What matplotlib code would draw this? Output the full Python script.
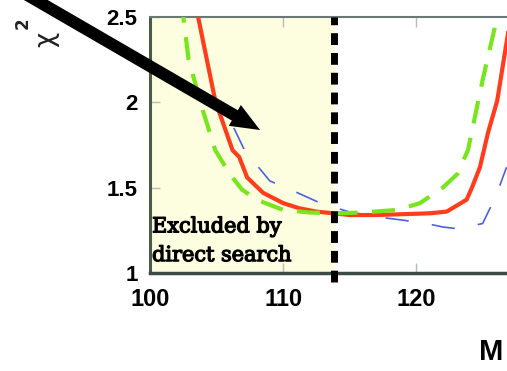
#---------------------------------------------------------------------------
# chi^2 vs Higgs mass, with the region excluded by direct search shaded
#---------------------------------------------------------------------------
from matplotlib import pyplot as plt
from matplotlib import patheffects as pe

# Values
#---------------------------------------------------------------------------
red_m = [103.3, 104.9, 106.2, 106.7, 107.3, 108.5, 110.0, 111.2, 112.5, 113.8,
         115.0, 117.0, 119.0, 121.0, 122.3, 123.8, 124.2, 124.8, 125.4, 126.1,
         126.8, 127.3]
red_chi2 = [2.62, 2.01, 1.72, 1.68, 1.56, 1.47, 1.41, 1.38, 1.36, 1.35,
            1.34, 1.34, 1.345, 1.35, 1.36, 1.43, 1.50, 1.62, 1.82, 2.01,
            2.35, 2.60]

green_m = [102.3, 102.5, 102.9, 103.9, 104.9, 106.0, 106.9, 108.0, 109.0, 110.0,
           112.0, 114.0, 116.0, 118.6, 120.3, 122.0, 123.1, 123.9, 125.0, 126.1,
           126.3]
green_chi2 = [2.6, 2.5, 2.25, 1.97, 1.72, 1.58, 1.49, 1.43, 1.40, 1.37,
              1.355, 1.35, 1.355, 1.37, 1.41, 1.50, 1.58, 1.72, 2.13, 2.5,
              2.6]

blue_m = [106.3, 107.1, 109.0, 111.1, 112.8, 114.9, 117.0, 119.0, 120.8, 122.0,
          123.1, 125.0, 126.0, 126.8]
blue_chi2 = [1.85, 1.72, 1.54, 1.47, 1.41, 1.36, 1.33, 1.31, 1.29, 1.27,
             1.26, 1.29, 1.45, 1.62]

m_limit = 113.8
x_ticks = [100, 110, 120]
y_ticks = [1, 1.5, 2, 2.5]
y_tick_labels = ['1', '1.5', '2', '2.5']
#---------------------------------------------------------------------------

fig = plt.figure(figsize=(5.07, 3.71), dpi=100)
ax = fig.add_axes([0.296, 0.264, 0.787, 0.690])

# shaded excluded region and the limit line
ax.axvspan(100, m_limit, color='#fdfde0', zorder=0)
ax.axvline(m_limit, ymin=-0.035, ymax=1, color='k', lw=5,
           linestyle=(0, (1.7, 1.15)), clip_on=False, zorder=5)

# curves
ax.plot(blue_m, blue_chi2, color='#4a62dd', lw=1.2,
        linestyle=(0, (14, 14)), zorder=2)
ax.plot(red_m, red_chi2, color='#ff3c1c', lw=3, zorder=3)
ax.plot(green_m, green_chi2, color='#77e61c', lw=3,
        linestyle=(0, (5.5, 3.5)), zorder=4)

# two-line note; va='baseline' sits on the last line
ax.text(100.15, 1.07, 'Excluded by\ndirect search', family='DejaVu Serif',
        fontsize=15, color='k', ha='left', va='baseline', linespacing=1.65,
        path_effects=[pe.withStroke(linewidth=0.9, foreground='k')],
        zorder=6)

# big arrow
ax.annotate('', xy=(108.27, 1.838), xytext=(87.2, 2.79),
            arrowprops=dict(arrowstyle='simple,head_length=2.1,head_width=1.73,tail_width=0.86',
                            mutation_scale=10, color='k', lw=0,
                            shrinkA=0, shrinkB=0),
            annotation_clip=False, zorder=7)

# axes look
ax.set_xlim(100, 130)
ax.set_ylim(1, 2.5)
ax.set_xticks(x_ticks)
ax.set_yticks(y_ticks)
ax.set_yticklabels(y_tick_labels)
ax.tick_params(direction='in', length=7, width=1, color='#b8bcbc',
               top=True, right=True)
ax.tick_params(axis='x', pad=11, labelsize=17)
ax.tick_params(axis='y', pad=9, labelsize=16)
for lab in ax.get_xticklabels() + ax.get_yticklabels():
    lab.set_fontweight('bold')
    lab.set_family('Liberation Sans')
ax.spines['top'].set_color('#6a7878')
ax.spines['top'].set_linewidth(1.5)
ax.spines['left'].set_color('#4d5a48')
ax.spines['left'].set_linewidth(2.2)
ax.spines['bottom'].set_color('#3c4a4a')
ax.spines['bottom'].set_linewidth(2.5)

# y label chi^2, drawn as a rotated chi with a raised 2
fig.text(46 / 507, 1 - 39 / 371, 'χ', rotation=90, fontsize=19,
         ha='center', va='center', color='#222222')
fig.text(23 / 507, 1 - 23.5 / 371, '2', rotation=90, fontsize=12,
         fontweight='bold', ha='center', va='center', color='#222222')
# x label, only its first letter is inside the picture
fig.text(503 / 507, 1 - 360 / 371, 'M', fontsize=21,
         fontweight='bold', family='Liberation Sans', ha='right', va='baseline')

fig.savefig('out.png', dpi=100)
#---------------------------------------------------------------------------
